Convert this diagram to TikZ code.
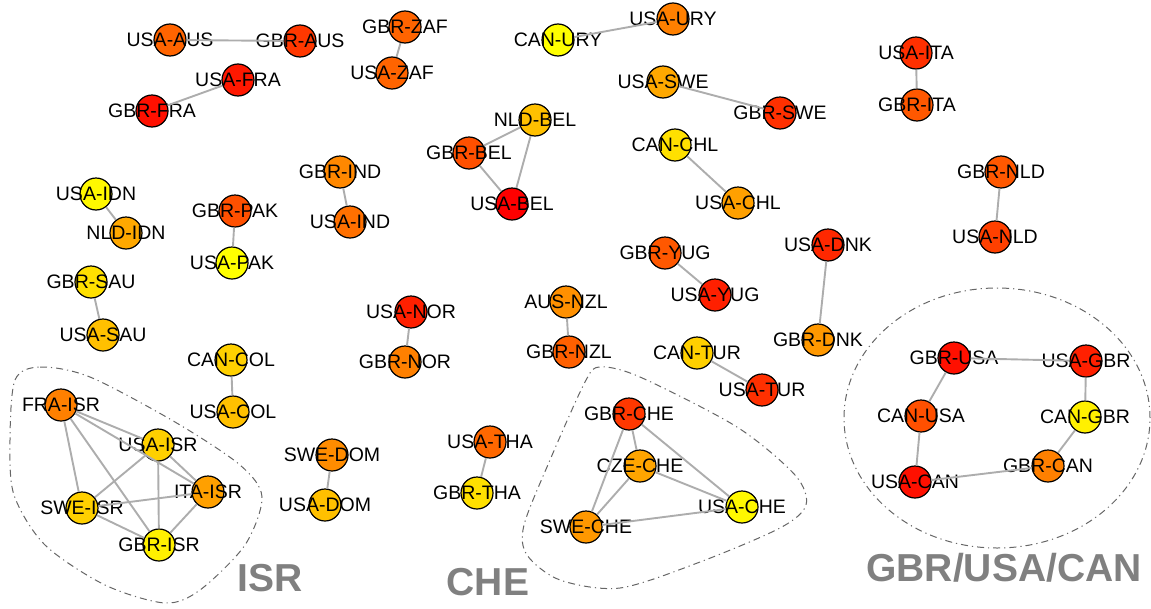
\documentclass[tikz,border=0pt]{standalone}
\usepackage{fontspec}
\setmainfont{Liberation Sans}
\usetikzlibrary{automata,positioning}

\begin{document}
\begin{tikzpicture}[x=1pt,y=-1pt,
  heat/.style={fill={rgb,255:red,255;green,#1;blue,0}},
  link/.style={draw=black!32,line width=1.9pt},
  hull/.style={draw=black!60,line width=1pt,dash pattern=on 7pt off 4pt on 1.2pt off 4pt},
  group/.style={text=black!50,font=\fontsize{39}{39}\selectfont\bfseries}]
  \tikzstyle{every state}=[draw=black,line width=1.2pt,minimum size=32pt,inner sep=0pt]
  \tikzstyle{every label}=[font=\fontsize{19.5}{19.5}\selectfont,inner sep=0pt]
  \useasboundingbox (0,0) rectangle (1151,608);

  \draw[hull] plot[smooth cycle] coordinates {(15,380) (40,367) (90,377) (175,422) (240,465)
    (262,497) (245,545) (200,590) (165,603) (105,585) (45,545) (14,495) (10,440)};
  \draw[hull] plot[smooth cycle] coordinates {(600,367) (640,377) (737,427) (795,475) (806,505)
    (780,528) (700,562) (620,588) (560,580) (527,555) (524,525) (550,460) (585,382)};
  \draw[hull] (997,418) ellipse [x radius=153pt,y radius=130pt];

  \node[state,heat=100,label=center:USA-AUS] (usaaus) at (170,40) {};
  \node[state,heat=56,label=center:GBR-AUS] (gbraus) at (300,41) {};
  \node[state,heat=24,label=center:USA-FRA] (usafra) at (238,80) {};
  \node[state,heat=16,label=center:GBR-FRA] (gbrfra) at (152,111) {};
  \node[state,heat=100,label=center:GBR-ZAF] (gbrzaf) at (405,27) {};
  \node[state,heat=100,label=center:USA-ZAF] (usazaf) at (392,73) {};
  \node[state,heat=255,label=center:CAN-URY] (canury) at (558,40) {};
  \node[state,heat=128,label=center:USA-URY] (usaury) at (673,19) {};
  \node[state,heat=168,label=center:USA-SWE] (usaswe) at (663,82) {};
  \node[state,heat=48,label=center:GBR-SWE] (gbrswe) at (780,113) {};
  \node[state,heat=192,label=center:NLD-BEL] (nldbel) at (535,120) {};
  \node[state,heat=80,label=center:GBR-BEL] (gbrbel) at (469,153) {};
  \node[state,heat=0,label=center:USA-BEL] (usabel) at (512,204) {};
  \node[state,heat=224,label=center:CAN-CHL] (canchl) at (675,145) {};
  \node[state,heat=160,label=center:USA-CHL] (usachl) at (738,203) {};
  \node[state,heat=48,label=center:USA-ITA] (usaita) at (916,53) {};
  \node[state,heat=88,label=center:GBR-ITA] (gbrita) at (917,105) {};
  \node[state,heat=88,label=center:GBR-NLD] (gbrnld) at (1001,172) {};
  \node[state,heat=64,label=center:USA-NLD] (usanld) at (995,237) {};

  \node[state,heat=248,label=center:USA-IDN] (usaidn) at (96,194) {};
  \node[state,heat=168,label=center:NLD-IDN] (nldidn) at (126,233) {};
  \node[state,heat=224,label=center:GBR-SAU] (gbrsau) at (91,282) {};
  \node[state,heat=192,label=center:USA-SAU] (usasau) at (103,335) {};
  \node[state,heat=80,label=center:GBR-PAK] (gbrpak) at (235,211) {};
  \node[state,heat=255,label=center:USA-PAK] (usapak) at (232,263) {};
  \node[state,heat=136,label=center:GBR-IND] (gbrind) at (340,172) {};
  \node[state,heat=112,label=center:USA-IND] (usaind) at (350,222) {};
  \node[state,heat=32,label=center:USA-NOR] (usanor) at (411,312) {};
  \node[state,heat=128,label=center:GBR-NOR] (gbrnor) at (405,362) {};
  \node[state,heat=144,label=center:AUS-NZL] (ausnzl) at (566,302) {};
  \node[state,heat=96,label=center:GBR-NZL] (gbrnzl) at (569,352) {};
  \node[state,heat=88,label=center:GBR-YUG] (gbryug) at (665,253) {};
  \node[state,heat=32,label=center:USA-YUG] (usayug) at (715,295) {};
  \node[state,heat=40,label=center:USA-DNK] (usadnk) at (828,245) {};
  \node[state,heat=152,label=center:GBR-DNK] (gbrdnk) at (818,340) {};
  \node[state,heat=208,label=center:CAN-TUR] (cantur) at (697,353) {};
  \node[state,heat=48,label=center:USA-TUR] (usatur) at (762,390) {};
  \node[state,heat=208,label=center:CAN-COL] (cancol) at (231,360) {};
  \node[state,heat=192,label=center:USA-COL] (usacol) at (233,412) {};
  \node[state,heat=140,label=center:SWE-DOM] (swedom) at (332,455) {};
  \node[state,heat=192,label=center:USA-DOM] (usadom) at (325,505) {};
  \node[state,heat=104,label=center:USA-THA] (usatha) at (490,442) {};
  \node[state,heat=224,label=center:GBR-THA] (gbrtha) at (477,493) {};

  \node[state,heat=128,label=center:FRA-ISR] (fraisr) at (61,405) {};
  \node[state,heat=208,label=center:USA-ISR] (usaisr) at (158,445) {};
  \node[state,heat=160,label=center:ITA-ISR] (itaisr) at (208,492) {};
  \node[state,heat=208,label=center:SWE-ISR] (sweisr) at (82,508) {};
  \node[state,heat=240,label=center:GBR-ISR] (gbrisr) at (159,545) {};

  \node[state,heat=56,label=center:GBR-CHE] (gbrche) at (629,414) {};
  \node[state,heat=165,label=center:CZE-CHE] (czeche) at (640,466) {};
  \node[state,heat=152,label=center:SWE-CHE] (sweche) at (586,527) {};
  \node[state,heat=248,label=center:USA-CHE] (usache) at (742,507) {};

  \node[state,heat=16,label=center:GBR-USA] (gbrusa) at (954,358) {};
  \node[state,heat=32,label=center:USA-GBR] (usagbr) at (1086,361) {};
  \node[state,heat=80,label=center:CAN-USA] (canusa) at (921,416) {};
  \node[state,heat=240,label=center:CAN-GBR] (cangbr) at (1085,417) {};
  \node[state,heat=128,label=center:GBR-CAN] (gbrcan) at (1048,466) {};
  \node[state,heat=16,label=center:USA-CAN] (usacan) at (915,482) {};

  \node[group] (isr) at (270,578) {ISR};
  \node[group] (che) at (488,582) {CHE};
  \node[group] (gbrusacan) at (1004,568) {GBR/USA/CAN};

  \path[link]
  (usaaus) edge (gbraus)
  (usafra) edge (gbrfra)
  (gbrzaf) edge (usazaf)
  (canury) edge (usaury)
  (usaswe) edge (gbrswe)
  (nldbel) edge (gbrbel)
  (nldbel) edge (usabel)
  (gbrbel) edge (usabel)
  (canchl) edge (usachl)
  (usaita) edge (gbrita)
  (gbrnld) edge (usanld)

  (usaidn) edge (nldidn)
  (gbrsau) edge (usasau)
  (gbrpak) edge (usapak)
  (gbrind) edge (usaind)
  (usanor) edge (gbrnor)
  (ausnzl) edge (gbrnzl)
  (gbryug) edge (usayug)
  (usadnk) edge (gbrdnk)
  (cantur) edge (usatur)
  (cancol) edge (usacol)
  (swedom) edge (usadom)
  (usatha) edge (gbrtha)

  (fraisr) edge (usaisr)
  (fraisr) edge (itaisr)
  (fraisr) edge (sweisr)
  (fraisr) edge (gbrisr)
  (usaisr) edge (itaisr)
  (usaisr) edge (sweisr)
  (usaisr) edge (gbrisr)
  (itaisr) edge (sweisr)
  (itaisr) edge (gbrisr)
  (sweisr) edge (gbrisr)

  (gbrche) edge (czeche)
  (gbrche) edge (sweche)
  (gbrche) edge (usache)
  (czeche) edge (sweche)
  (czeche) edge (usache)
  (sweche) edge (usache)

  (gbrusa) edge (usagbr)
  (usagbr) edge (cangbr)
  (cangbr) edge (gbrcan)
  (gbrcan) edge (usacan)
  (usacan) edge (canusa)
  (canusa) edge (gbrusa);
\end{tikzpicture}
\end{document}
